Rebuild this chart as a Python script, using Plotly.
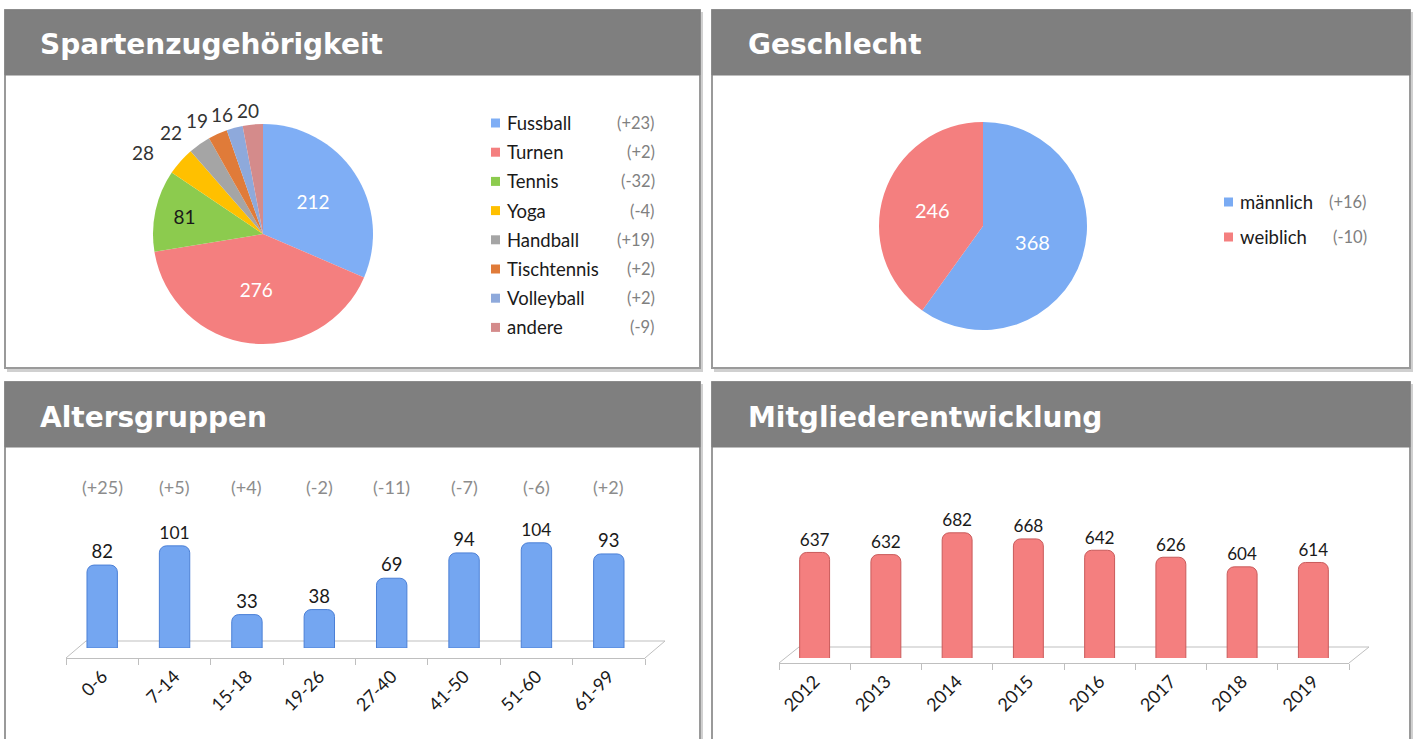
import math
import plotly.graph_objects as go

# ---------------- data ----------------
sports = ["Fussball", "Turnen", "Tennis", "Yoga", "Handball", "Tischtennis", "Volleyball", "andere"]
sport_counts = [212, 276, 81, 28, 22, 19, 16, 20]
sport_changes = [23, 2, -32, -4, 19, 2, 2, -9]
sport_colors = ["#7FAEF5", "#F47F7F", "#8CCB4E", "#FFC000", "#A5A5A5", "#E07B39", "#8EA9DB", "#D48B8B"]

genders = ["männlich", "weiblich"]
gender_counts = [368, 246]
gender_changes = [16, -10]
gender_colors = ["#7AABF3", "#F47F7F"]

age_groups = ["0-6", "7-14", "15-18", "19-26", "27-40", "41-50", "51-60", "61-99"]
age_counts = [82, 101, 33, 38, 69, 94, 104, 93]
age_changes = [25, 5, 4, -2, -11, -7, -6, 2]

years = ["2012", "2013", "2014", "2015", "2016", "2017", "2018", "2019"]
members = [637, 632, 682, 668, 642, 626, 604, 614]

titles = ["Spartenzugehörigkeit", "Geschlecht", "Altersgruppen", "Mitgliederentwicklung"]

# ---------------- layout helpers ----------------
W, H = 1414, 739


def X(px):
    return px / W


def Y(py):
    return 1 - py / H


BODY_FONT = "Lato, 'Open Sans', sans-serif"
TITLE_FONT = "'DejaVu Sans', Verdana, sans-serif"

fig = go.Figure()

# ---------------- pies ----------------
P1_CX, P1_CY, P1_R = 263, 234, 110
n_inside = 3
text_pos = ["inside"] * n_inside + ["none"] * (len(sports) - n_inside)
text_cols = ["white", "white", "#1a1a1a"] + ["#333333"] * (len(sports) - n_inside)
fig.add_trace(go.Pie(
    labels=sports, values=sport_counts, sort=False, direction="clockwise", rotation=0,
    marker=dict(colors=sport_colors, line=dict(width=0)),
    textinfo="value", textposition=text_pos,
    textfont=dict(size=19, family=BODY_FONT, color=text_cols),
    insidetextorientation="horizontal",
    domain=dict(x=[X(P1_CX - P1_R), X(P1_CX + P1_R)], y=[Y(P1_CY + P1_R), Y(P1_CY - P1_R)]),
    showlegend=False, hoverinfo="label+value",
))

P2_CX, P2_CY, P2_R = 983, 226, 104
fig.add_trace(go.Pie(
    labels=genders, values=gender_counts, sort=False, direction="clockwise", rotation=0,
    marker=dict(colors=gender_colors, line=dict(width=0)),
    textinfo="value", textposition="inside",
    textfont=dict(size=20, family=BODY_FONT, color="white"),
    insidetextorientation="horizontal",
    domain=dict(x=[X(P2_CX - P2_R), X(P2_CX + P2_R)], y=[Y(P2_CY + P2_R), Y(P2_CY - P2_R)]),
    showlegend=False, hoverinfo="label+value",
))

# ---------------- bars ----------------
fig.add_trace(go.Bar(
    x=age_groups, y=age_counts, text=age_counts, textposition="outside",
    textfont=dict(size=18.5, family=BODY_FONT, color="#1a1a1a"),
    marker=dict(color="#74A6F1", line=dict(color="#4C80D6", width=1), cornerradius=7),
    xaxis="x", yaxis="y", showlegend=False, width=0.42,
))
fig.add_trace(go.Bar(
    x=years, y=members, text=members, textposition="outside",
    textfont=dict(size=18.5, family=BODY_FONT, color="#1a1a1a"),
    marker=dict(color="#F47F7F", line=dict(color="#C95B5B", width=1), cornerradius=7),
    xaxis="x2", yaxis="y2", showlegend=False, width=0.42,
))

axis_common = dict(showgrid=False, zeroline=False, showline=True, linecolor="#BFBFBF", linewidth=1,
                   ticks="outside", tickson="boundaries", ticklen=6, tickcolor="#BFBFBF",
                   tickangle=-45, tickfont=dict(size=18, family=BODY_FONT, color="#1a1a1a"),
                   fixedrange=True)
yaxis_common = dict(showgrid=False, zeroline=False, showline=False, showticklabels=False,
                    ticks="", fixedrange=True)

fig.update_layout(
    xaxis=dict(domain=[X(66), X(645)], anchor="free", position=Y(658), **axis_common),
    yaxis=dict(domain=[Y(648), Y(470)], range=[0, 176], **yaxis_common),
    xaxis2=dict(domain=[X(779), X(1349)], anchor="free", position=Y(663), **axis_common),
    yaxis2=dict(domain=[Y(658), Y(470)], range=[395, 826], anchor="x2", **yaxis_common),
)

# ---------------- shapes: panels ----------------
shapes = []
panels = [(5, 10, 700, 368), (712, 10, 1410, 368), (5, 382, 700, 745), (712, 382, 1410, 745)]
for (x0, y0, x1, y1) in panels:
    shapes.append(dict(type="rect", xref="paper", yref="paper", layer="below",
                       x0=X(x0 + 2), x1=X(x1 + 3), y0=Y(y1 + 4), y1=Y(y0 + 2),
                       fillcolor="#D0D0D0", line=dict(width=0)))
    shapes.append(dict(type="rect", xref="paper", yref="paper", layer="below",
                       x0=X(x0), x1=X(x1), y0=Y(y1), y1=Y(y0),
                       fillcolor="white", line=dict(color="#9A9A9A", width=2)))
    shapes.append(dict(type="rect", xref="paper", yref="paper", layer="below",
                       x0=X(x0), x1=X(x1), y0=Y(y0 + 65), y1=Y(y0),
                       fillcolor="#7F7F7F", line=dict(color="#7F7F7F", width=1)))

# 3D-floor outlines under the bar charts
floors = [(66, 645, 658, 20, 17), (779, 1349, 663, 20, 16)]
for (fx0, fx1, fy, dx, dy) in floors:
    path = (f"M {X(fx0)},{Y(fy)} L {X(fx0 + dx)},{Y(fy - dy)} "
            f"L {X(fx1 + dx)},{Y(fy - dy)} L {X(fx1)},{Y(fy)}")
    shapes.append(dict(type="path", xref="paper", yref="paper", layer="below", path=path,
                       line=dict(color="#BFBFBF", width=1)))

# legend squares
LEG1_Y0, LEG1_DY = 123, 29.2
for i, c in enumerate(sport_colors):
    cy = LEG1_Y0 + LEG1_DY * i
    shapes.append(dict(type="rect", xref="paper", yref="paper",
                       x0=X(491), x1=X(500), y0=Y(cy + 4.5), y1=Y(cy - 4.5),
                       fillcolor=c, line=dict(width=0)))
LEG2_Y0, LEG2_DY = 202, 35
for i, c in enumerate(gender_colors):
    cy = LEG2_Y0 + LEG2_DY * i
    shapes.append(dict(type="rect", xref="paper", yref="paper",
                       x0=X(1224), x1=X(1233), y0=Y(cy + 4.5), y1=Y(cy - 4.5),
                       fillcolor=c, line=dict(width=0)))

# ---------------- annotations ----------------
ann = []
title_pos = [(38, 44), (746, 44), (38, 418), (746, 418)]
for t, (tx, ty) in zip(titles, title_pos):
    ann.append(dict(text=t, x=X(tx), y=Y(ty), xref="paper", yref="paper", showarrow=False,
                    xanchor="left", yanchor="middle",
                    font=dict(size=28, family=TITLE_FONT, color="white", weight="bold")))

# outside value labels for the small pie slices, placed at each slice's mid-angle
total = sum(sport_counts)
cum = 0
LBL_RX, LBL_RY = 160, 124
for i, v in enumerate(sport_counts):
    mid = (cum + v / 2) / total
    cum += v
    if i < n_inside:
        continue
    th = 2 * math.pi * mid
    lx = P1_CX + LBL_RX * math.sin(th)
    ly = P1_CY - LBL_RY * math.cos(th)
    ann.append(dict(text=str(v), x=X(lx), y=Y(ly), xref="paper", yref="paper", showarrow=False,
                    xanchor="center", yanchor="middle",
                    font=dict(size=19, family=BODY_FONT, color="#333333")))

for i, (s, ch) in enumerate(zip(sports, sport_changes)):
    cy = LEG1_Y0 + LEG1_DY * i
    ann.append(dict(text=s, x=X(505), y=Y(cy), xref="paper", yref="paper", showarrow=False,
                    xanchor="left", yanchor="middle",
                    font=dict(size=18.5, family=BODY_FONT, color="#1a1a1a")))
    ann.append(dict(text=f"({ch:+d})", x=X(657), y=Y(cy), xref="paper", yref="paper", showarrow=False,
                    xanchor="right", yanchor="middle",
                    font=dict(size=16.5, family=BODY_FONT, color="#808080")))

for i, (g, ch) in enumerate(zip(genders, gender_changes)):
    cy = LEG2_Y0 + LEG2_DY * i
    ann.append(dict(text=g, x=X(1238), y=Y(cy), xref="paper", yref="paper", showarrow=False,
                    xanchor="left", yanchor="middle",
                    font=dict(size=18.5, family=BODY_FONT, color="#1a1a1a")))
    ann.append(dict(text=f"({ch:+d})", x=X(1369), y=Y(cy), xref="paper", yref="paper", showarrow=False,
                    xanchor="right", yanchor="middle",
                    font=dict(size=16.5, family=BODY_FONT, color="#808080")))

for g, ch in zip(age_groups, age_changes):
    ann.append(dict(text=f"({ch:+d})", x=g, xref="x", y=Y(487), yref="paper", showarrow=False,
                    xanchor="center", yanchor="middle",
                    font=dict(size=18, family=BODY_FONT, color="#8C8C8C")))

fig.update_layout(
    width=W, height=H, margin=dict(l=0, r=0, t=0, b=0),
    paper_bgcolor="white", plot_bgcolor="rgba(0,0,0,0)",
    shapes=shapes, annotations=ann, showlegend=False,
    bargap=0.6,
)

fig.write_html("out.html", config={"displayModeBar": False},
               post_script="document.body.style.margin='0px';document.body.style.overflow='hidden';")
